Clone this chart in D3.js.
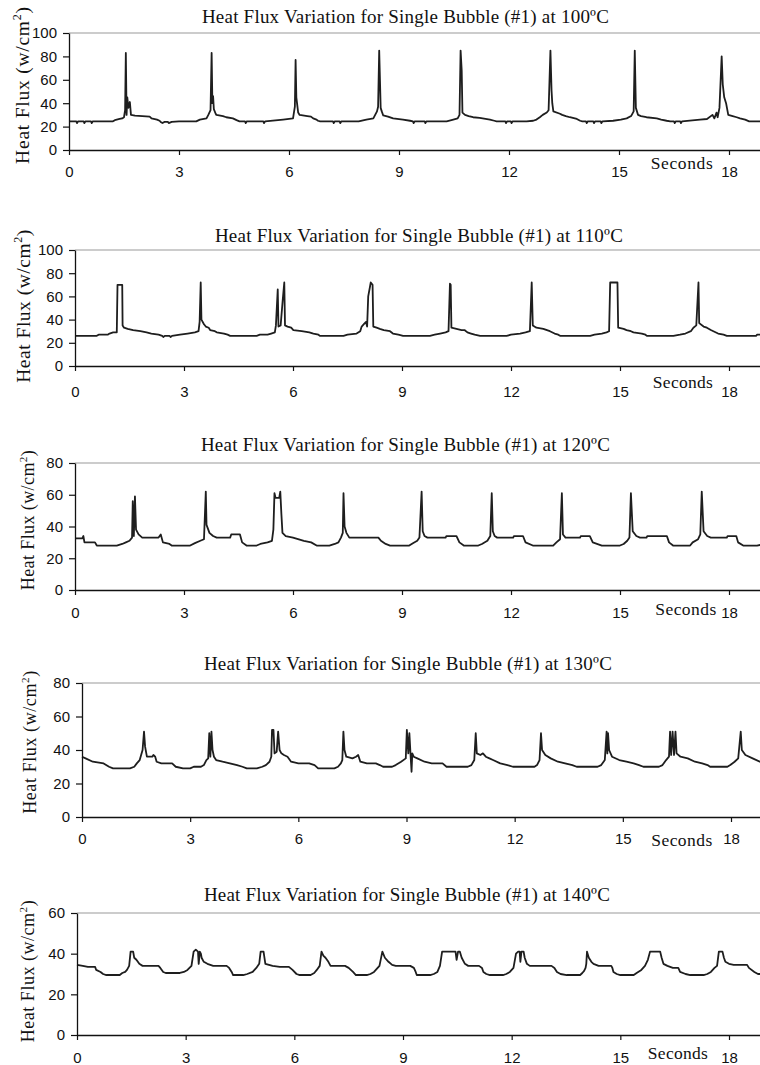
<!DOCTYPE html>
<html>
<head>
<meta charset="utf-8">
<script src="https://cdn.jsdelivr.net/npm/d3@7"></script>
<style>
  html, body { margin: 0; padding: 0; background: #fff; }
  svg { display: block; }
</style>
</head>
<body>
<svg id="chart" width="760" height="1065"></svg>
<script>
// ---------------- DATA ----------------
const xTicks = [0, 3, 6, 9, 12, 15, 18];
const temps = ["100", "110", "120", "130", "140"];
const yTicks100 = [0, 20, 40, 60, 80, 100];
const yTicks110 = [0, 20, 40, 60, 80, 100];
const yTicks120 = [0, 20, 40, 60, 80];
const yTicks130 = [0, 20, 40, 60, 80];
const yTicks140 = [0, 20, 40, 60];

// [seconds, heat flux w/cm^2]
const series100 = [
[0,24.5],[0.2,24.5],[0.22,23],[0.25,24.5],[0.4,24.5],[0.42,23],[0.45,24.5],[0.6,24.5],[0.62,23],[0.65,24.5],[1.2,24.5],[1.25,25.5],[1.38,26.5],[1.45,27],[1.5,28],[1.53,34],[1.55,83],[1.57,30],[1.59,45],[1.62,36],[1.66,41],[1.69,30],[1.8,29.3],[2.2,28.5],[2.25,27],[2.4,26],[2.47,25],[2.5,24],[2.55,23],[2.6,24],[2.7,24],[2.72,23],[2.8,24],[3.0,24.5],[3.47,24.5],[3.57,26],[3.75,27],[3.8,30],[3.86,34],[3.89,83],[3.91,40],[3.93,46],[3.95,35],[4.0,31],[4.02,30],[4.2,29],[4.29,28],[4.47,27],[4.57,25.5],[4.65,24.5],[4.8,24.5],[4.82,23],[4.85,24.5],[5.3,24.5],[5.32,23],[5.35,24.5],[5.84,26],[6.11,27],[6.16,37],[6.18,77],[6.2,45],[6.25,32],[6.29,30],[6.5,29],[6.6,28.5],[6.66,27],[6.75,26],[6.79,25],[6.85,24.5],[7.2,24.5],[7.22,23],[7.25,24.5],[7.38,24.5],[7.4,23],[7.43,24.5],[7.9,24.5],[8.11,26],[8.3,27],[8.4,33],[8.43,37],[8.46,85],[8.5,36],[8.53,33],[8.57,29.5],[8.7,28.6],[8.84,27],[9.11,26],[9.3,25],[9.38,24.5],[9.4,23],[9.43,24.5],[9.7,24.5],[9.72,23],[9.75,24.5],[10.3,24.5],[10.48,26],[10.6,27],[10.65,30],[10.68,85],[10.71,68],[10.73,32],[10.8,30],[10.9,29],[11.02,28],[11.2,27.5],[11.48,26],[11.6,25],[11.66,24.5],[11.9,24.5],[11.92,23],[11.95,24.5],[12.05,24.5],[12.07,23],[12.1,24.5],[12.48,24.5],[12.66,25],[12.75,26],[12.84,28],[12.92,30],[13.03,32],[13.08,34],[13.13,85],[13.16,51],[13.18,40],[13.21,33],[13.39,31],[13.45,30],[13.55,29],[13.66,28],[13.85,26.5],[13.94,25],[14.0,24.5],[14.1,24.5],[14.12,23],[14.15,24.5],[14.3,24.5],[14.32,23],[14.35,24.5],[14.5,24.5],[14.52,23],[14.55,24.5],[14.84,25],[15.05,26],[15.21,27],[15.33,29],[15.4,33],[15.43,85],[15.46,36],[15.52,30],[15.6,29],[15.75,28],[16.03,27],[16.15,26],[16.3,25],[16.4,24.5],[16.5,24.5],[16.52,23],[16.55,24.5],[16.67,24.5],[16.69,23],[16.72,24.5],[17.21,26],[17.4,26.5],[17.55,30],[17.6,27],[17.66,32],[17.69,28],[17.74,36],[17.8,80],[17.83,56],[17.87,45],[17.92,40],[17.98,30],[18.1,29],[18.21,28],[18.3,27],[18.44,26],[18.55,24.5],[19,24.5]
];
const series110 = [
[0,26],[0.6,26],[0.65,27],[0.9,27],[0.95,28],[1.05,29],[1.15,29],[1.17,70],[1.3,70],[1.31,35],[1.35,33],[1.45,32],[1.6,31],[1.8,30],[1.97,29],[2.1,28],[2.3,27],[2.4,26],[2.43,25],[2.47,26],[2.6,26],[2.63,25],[2.67,26],[2.89,27],[3.1,28],[3.3,29],[3.4,30],[3.43,38],[3.46,72],[3.48,40],[3.55,36],[3.6,34],[3.68,33],[3.72,31],[3.85,30],[3.9,29],[4.1,28],[4.2,27],[4.27,26],[5.0,26],[5.09,27],[5.3,27],[5.4,28],[5.5,29],[5.53,35],[5.58,66],[5.6,34],[5.66,35],[5.72,58],[5.76,72],[5.78,35],[5.85,34],[5.95,33],[6.01,31],[6.24,30],[6.45,29],[6.56,28],[6.7,27],[6.74,26],[7.39,26],[7.5,27],[7.75,28],[7.85,30],[7.89,34],[7.95,36],[8.01,38],[8.04,34],[8.07,60],[8.14,72],[8.19,70],[8.21,34],[8.3,33],[8.39,32],[8.5,31],[8.67,30],[8.75,28],[8.9,27],[9.03,26],[9.77,26],[9.9,27],[10.05,28],[10.2,29],[10.28,30],[10.32,71],[10.34,70],[10.36,33],[10.5,32],[10.64,31],[10.72,31],[10.8,29],[10.9,28],[11.0,27],[11.15,26],[11.88,26],[12.0,27],[12.25,28],[12.4,29],[12.52,30],[12.57,72],[12.6,35],[12.7,33],[12.89,32],[13.07,30],[13.2,28],[13.3,27],[13.35,26],[14.18,26],[14.3,27],[14.5,28],[14.63,29],[14.7,30],[14.73,72],[14.93,72],[14.95,33],[15.1,32],[15.18,31],[15.3,30],[15.37,29],[15.6,28],[15.7,27],[15.74,26],[16.47,26],[16.65,27],[16.8,28],[16.95,30],[17.02,33],[17.1,35],[17.16,72],[17.18,37],[17.3,34],[17.39,33],[17.5,31],[17.57,30],[17.7,28],[17.85,27],[17.94,26],[18.75,26],[18.77,27],[19,27]
];
const series120 = [
[0,32.5],[0.2,32.5],[0.23,34],[0.26,30],[0.55,30],[0.6,28],[1.15,28],[1.3,29],[1.4,30],[1.5,31],[1.57,33],[1.59,56],[1.62,34],[1.65,59],[1.68,38],[1.75,35],[1.85,33],[2.3,33],[2.36,35],[2.42,30],[2.6,29],[2.66,28],[3.17,28],[3.3,29.5],[3.45,31],[3.55,32],[3.6,62],[3.62,41],[3.7,36],[3.8,34],[3.9,33],[4.27,33],[4.3,35],[4.54,35],[4.6,30],[4.72,28],[5.0,28],[5.1,29],[5.3,30],[5.42,31],[5.46,38],[5.49,61],[5.52,58],[5.62,58],[5.65,62],[5.68,48],[5.71,36],[5.8,34],[6.0,33],[6.3,31],[6.5,30],[6.65,28],[7.0,28],[7.15,29],[7.25,30],[7.32,33],[7.37,36],[7.39,61],[7.42,40],[7.47,36],[7.55,33],[8.35,33],[8.42,31],[8.55,29],[8.67,28],[9.2,28],[9.3,29.5],[9.42,31],[9.48,33],[9.54,62],[9.57,37],[9.62,34],[9.7,33],[10.2,33],[10.22,34],[10.5,34],[10.58,30],[10.7,28],[11.1,28],[11.2,29],[11.35,31],[11.43,34],[11.47,61],[11.5,37],[11.55,34],[11.62,33],[12.06,33],[12.08,34],[12.33,34],[12.4,30],[12.6,28],[13.16,28],[13.25,30],[13.35,32],[13.4,61],[13.43,35],[13.5,33],[13.9,33],[13.92,34],[14.17,34],[14.25,30],[14.5,28],[15.0,28],[15.1,29],[15.2,31],[15.26,33],[15.3,61],[15.35,37],[15.45,34],[15.55,33],[15.73,33],[15.75,34],[16.29,34],[16.35,30],[16.46,28],[16.93,28],[17.0,30],[17.15,32],[17.21,35],[17.25,62],[17.3,37],[17.4,34],[17.5,33],[17.94,33],[17.96,34],[18.2,34],[18.25,30],[18.39,28],[18.77,28],[19,29]
];
const series130 = [
[0,36],[0.1,35],[0.3,33],[0.6,32],[0.75,30],[0.86,29],[1.33,29],[1.45,30],[1.52,32],[1.6,34],[1.68,40],[1.72,51],[1.75,42],[1.8,36],[1.95,36],[1.98,37],[2.03,36],[2.07,33],[2.2,32],[2.5,32],[2.6,30],[2.8,29],[3.0,29],[3.1,30],[3.3,30],[3.38,31],[3.45,34],[3.5,35],[3.53,50],[3.56,36],[3.59,51],[3.62,40],[3.66,36],[3.72,34],[3.9,33],[4.1,32],[4.3,31],[4.45,30],[4.57,29],[4.85,29],[5.0,30],[5.1,31],[5.2,33],[5.25,36],[5.27,52],[5.31,52],[5.34,38],[5.4,39],[5.44,51],[5.48,40],[5.53,38],[5.6,37],[5.7,36],[5.8,33],[6.0,32],[6.3,32],[6.45,31],[6.55,29],[7.0,29],[7.1,30],[7.18,32],[7.22,34],[7.25,51],[7.28,40],[7.33,36],[7.5,35],[7.6,36],[7.66,37],[7.72,33],[7.9,32],[8.15,32],[8.26,31],[8.35,30],[8.6,30],[8.7,31],[8.85,33],[8.98,35],[9.01,52],[9.05,38],[9.08,50],[9.11,38],[9.14,27],[9.16,38],[9.2,36],[9.3,35],[9.5,33],[9.7,32],[10.0,32],[10.11,30],[10.7,30],[10.8,31],[10.88,34],[10.92,50],[10.95,38],[11.05,37],[11.12,38],[11.2,36],[11.3,35],[11.4,34],[11.6,32],[11.8,31],[11.95,30],[12.55,30],[12.62,31],[12.69,34],[12.73,50],[12.76,40],[12.85,37],[13.0,35],[13.2,33],[13.4,32],[13.6,31],[13.72,30],[14.3,30],[14.4,31],[14.5,34],[14.55,51],[14.57,38],[14.59,50],[14.62,40],[14.7,36],[14.9,34],[15.1,33],[15.3,32],[15.45,31],[15.57,30],[16.0,30],[16.1,31],[16.2,34],[16.28,36],[16.31,51],[16.34,37],[16.38,51],[16.42,37],[16.46,51],[16.49,38],[16.6,36],[16.8,35],[17.0,33],[17.2,32],[17.35,31],[17.42,30],[17.9,30],[17.98,31],[18.1,33],[18.2,35],[18.27,51],[18.3,40],[18.4,37],[18.6,35],[18.8,33],[19,32]
];
const series140 = [
[0,34.5],[0.16,34],[0.3,33.5],[0.5,33.5],[0.53,32],[0.65,31],[0.72,30],[0.81,29.5],[1.18,29.5],[1.25,30.5],[1.33,31],[1.38,32],[1.44,34],[1.48,41],[1.55,41],[1.58,38],[1.64,37],[1.72,35],[1.81,34],[2.25,34],[2.3,33],[2.38,31],[2.45,30.5],[2.84,30.5],[2.95,31],[3.05,32],[3.16,34],[3.22,41],[3.28,42],[3.34,41],[3.36,35],[3.39,41],[3.42,40],[3.44,38],[3.5,36],[3.6,35],[3.76,34],[4.13,34],[4.2,33],[4.27,31],[4.31,29.5],[4.59,29.5],[4.7,30],[4.85,31],[4.95,33],[5.03,35],[5.07,41],[5.15,41],[5.2,35],[5.4,34],[5.6,33.5],[5.85,33.5],[5.95,32],[6.06,30],[6.15,29.5],[6.45,29.5],[6.55,30.5],[6.62,32],[6.7,34],[6.75,41],[6.8,39],[6.86,38],[6.94,36],[7.0,34],[7.4,34],[7.5,33],[7.62,31],[7.7,29.5],[8.0,29.5],[8.1,30],[8.2,31],[8.35,34],[8.43,41],[8.5,38],[8.6,36],[8.7,34.5],[8.8,34],[9.2,34],[9.3,33],[9.35,31],[9.38,29.5],[9.75,29.5],[9.85,30],[9.95,31],[10.02,34],[10.08,41],[10.45,41],[10.48,37],[10.52,41],[10.57,41],[10.62,38],[10.71,35],[10.8,34],[11.1,34],[11.18,33],[11.22,31],[11.3,30],[11.4,29.5],[11.76,29.5],[11.85,30],[11.95,31],[12.05,33],[12.12,40],[12.18,41],[12.22,41],[12.24,36],[12.27,41],[12.33,41],[12.36,38],[12.42,35],[12.5,34],[13.1,34],[13.18,33],[13.25,31],[13.35,30],[13.52,29.5],[13.89,29.5],[13.95,30.5],[14.0,31.5],[14.04,33],[14.06,35],[14.08,41],[14.13,38],[14.2,36],[14.26,35],[14.4,34],[14.75,34],[14.78,33],[14.81,31],[14.9,30],[15.0,29.5],[15.37,29.5],[15.45,30.5],[15.58,32],[15.68,34],[15.76,37],[15.82,41],[16.1,41],[16.14,38],[16.19,35],[16.3,34],[16.45,33],[16.6,33],[16.65,31],[16.8,30],[16.93,29.5],[17.3,29.5],[17.4,30],[17.5,31],[17.6,33],[17.67,34],[17.72,41],[17.82,41],[17.86,38],[17.9,36],[18.0,35],[18.13,34.5],[18.5,34.5],[18.55,33],[18.7,31],[18.8,30],[19,30]
];

const allSeries = [series100, series110, series120, series130, series140];
const allYTicks = [yTicks100, yTicks110, yTicks120, yTicks130, yTicks140];

// ---------------- LAYOUT ----------------
const layout = [
  { left: 69, x18: 729, top: 33,  bottom: 150,  titleX: 405.5, titleY: 23,  titleW: 407, yTitleX: 29, yTitleY: 85,  yTitleSize: 19.5, yTitleW: 157, secX: 682, secY: 169,  secW: 62, tickDy: 27 },
  { left: 75, x18: 729, top: 250, bottom: 366,  titleX: 419,   titleY: 242, titleW: 408, yTitleX: 30, yTitleY: 306, yTitleSize: 19.5, yTitleW: 153, secX: 683, secY: 388,  secW: 60, tickDy: 31 },
  { left: 75, x18: 729, top: 463, bottom: 590,  titleX: 405.5, titleY: 451, titleW: 409, yTitleX: 34, yTitleY: 520, yTitleSize: 18,   yTitleW: 140, secX: 686, secY: 615,  secW: 61, tickDy: 28 },
  { left: 82, x18: 731, top: 683, bottom: 817,  titleX: 408,   titleY: 670, titleW: 408, yTitleX: 36, yTitleY: 742, yTitleSize: 18,   yTitleW: 143, secX: 682, secY: 846,  secW: 61, tickDy: 27 },
  { left: 77, x18: 729, top: 913, bottom: 1035, titleX: 407,   titleY: 901, titleW: 406, yTitleX: 34, yTitleY: 971, yTitleSize: 18,   yTitleW: 142, secX: 678, secY: 1059, secW: 60, tickDy: 28 }
];

const svg = d3.select("#chart");
const serif = "'Liberation Serif', 'Times New Roman', serif";
const sans = "'Liberation Sans', Arial, sans-serif";

function fitSpacing(sel, target) {
  const node = sel.node();
  const n = node.textContent.length;
  const w = node.getComputedTextLength();
  const ls = (target - w) / Math.max(1, n - 1);
  sel.attr("letter-spacing", ls.toFixed(3));
}

allSeries.forEach((data, i) => {
  const L = layout[i];
  const yt = allYTicks[i];
  const ymax = yt[yt.length - 1];
  const pxs = (L.x18 - L.left) / 18;
  const x = d3.scaleLinear().domain([0, 19]).range([L.left, L.left + 19 * pxs]);
  const y = d3.scaleLinear().domain([0, ymax]).range([L.bottom, L.top]);
  const g = svg.append("g");

  // top gray line
  g.append("line")
    .attr("x1", x(0)).attr("x2", 760)
    .attr("y1", y(ymax)).attr("y2", y(ymax))
    .attr("stroke", "#9a9a9a").attr("stroke-width", 1.2);

  // data line
  g.append("path")
    .datum(data)
    .attr("fill", "none")
    .attr("stroke", "#1e1e1e")
    .attr("stroke-width", 1.8)
    .attr("stroke-linejoin", "round")
    .attr("d", d3.line().x(d => x(d[0])).y(d => y(d[1])));

  // y axis
  const ya = g.append("g")
    .attr("transform", `translate(${L.left},0)`)
    .call(d3.axisLeft(y).tickValues(yt).tickSize(6).tickSizeOuter(0).tickPadding(6));
  ya.select(".domain").attr("stroke", "#111").attr("stroke-width", 1.3);
  ya.selectAll(".tick line").attr("stroke", "#111").attr("stroke-width", 1.2);
  ya.selectAll(".tick text").attr("font-family", sans).attr("font-size", 15).attr("fill", "#111");

  // x axis
  const xa = g.append("g")
    .attr("transform", `translate(0,${L.bottom})`)
    .call(d3.axisBottom(x).tickValues(xTicks).tickSize(5).tickSizeOuter(0).tickPadding(6));
  xa.select(".domain").attr("stroke", "#111").attr("stroke-width", 1.3);
  xa.selectAll(".tick line").attr("stroke", "#111").attr("stroke-width", 1.2);
  xa.selectAll(".tick text")
    .attr("font-family", sans).attr("font-size", 15).attr("fill", "#111")
    .attr("y", null).attr("dy", null)
    .attr("dominant-baseline", "alphabetic")
    .attr("transform", `translate(0,${L.tickDy})`);

  // title
  const title = g.append("text")
    .attr("x", L.titleX).attr("y", L.titleY)
    .attr("text-anchor", "middle")
    .attr("font-family", serif).attr("font-size", 19).attr("fill", "#111")
    .text(`Heat Flux Variation for Single Bubble (#1) at ${temps[i]}ºC`);
  fitSpacing(title, L.titleW);

  // y title
  const yTitle = g.append("text")
    .attr("transform", `translate(${L.yTitleX},${L.yTitleY}) rotate(-90)`)
    .attr("text-anchor", "middle")
    .attr("font-family", serif).attr("font-size", L.yTitleSize).attr("fill", "#111");
  yTitle.append("tspan").text("Heat Flux (w/cm");
  yTitle.append("tspan").attr("dy", -L.yTitleSize * 0.4).attr("font-size", L.yTitleSize * 0.62).text("2");
  yTitle.append("tspan").attr("dy", L.yTitleSize * 0.4).text(")");
  fitSpacing(yTitle, L.yTitleW);

  // Seconds label
  const sec = g.append("text")
    .attr("x", L.secX).attr("y", L.secY)
    .attr("text-anchor", "middle")
    .attr("font-family", serif).attr("font-size", 17.5).attr("fill", "#111")
    .text("Seconds");
  fitSpacing(sec, L.secW);
});
</script>
</body>
</html>
